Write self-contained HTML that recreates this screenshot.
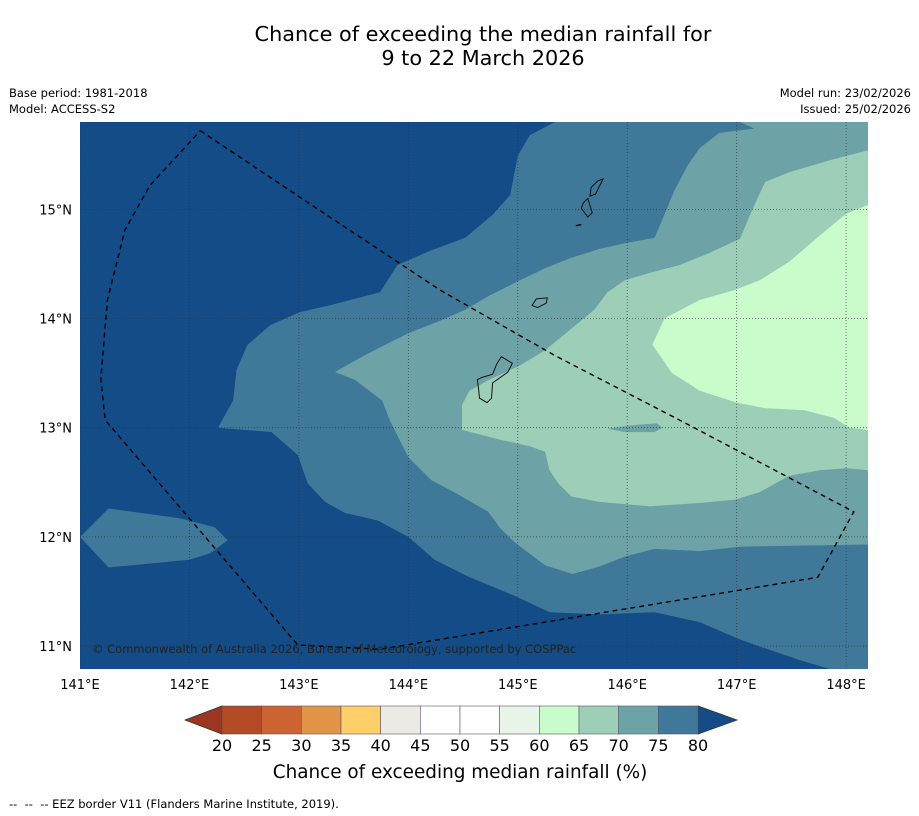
<!DOCTYPE html>
<html><head><meta charset="utf-8">
<style>
body{margin:0;background:#fff;font-family:"DejaVu Sans","Liberation Sans",sans-serif;}
#wrap{position:relative;width:919px;height:816px;overflow:hidden;}
.t{position:absolute;white-space:nowrap;color:#000;}
</style></head><body>
<div id="wrap">
<div class="t" style="left:0;width:966px;top:22px;text-align:center;font-size:20.8px;line-height:24px;">Chance of exceeding the median rainfall for<br>9 to 22 March 2026</div>
<div class="t" style="left:9px;top:85px;font-size:11.5px;line-height:16px;">Base period: 1981-2018<br>Model: ACCESS-S2</div>
<div class="t" style="right:8px;top:85px;font-size:11.5px;line-height:16px;text-align:right;">Model run: 23/02/2026<br>Issued: 25/02/2026</div>
<div class="t" style="left:9px;top:797px;font-size:11.5px;">-- &nbsp;-- &nbsp;-- EEZ border V11 (Flanders Marine Institute, 2019).</div>
<svg id="svg" width="919" height="816" style="position:absolute;left:0;top:0"></svg>
</div>
<script>
const lonMin=141, lonMax=148.2, latMin=10.79, latMax=15.8;
const lonTicks=[141,142,143,144,145,146,147,148];
const latTicks=[11,12,13,14,15];
const levelColors=["#3f7898","#6da3a7","#9dcfb8","#c9fcca"];
const p75Main=[[145.34,15.8],[145.11,15.68],[145.0,15.49],[144.93,15.13],[144.77,14.95],[144.52,14.74],[144.2,14.62],[143.9,14.49],[143.74,14.24],[143.28,14.12],[143.01,14.06],[142.74,13.94],[142.53,13.76],[142.43,13.53],[142.4,13.25],[142.26,13.0],[142.75,12.96],[142.99,12.75],[143.08,12.49],[143.24,12.32],[143.42,12.22],[143.72,12.15],[144.0,12.0],[144.24,11.79],[144.56,11.63],[144.97,11.46],[145.29,11.31],[145.75,11.29],[146.25,11.31],[146.66,11.22],[147.03,11.06],[147.26,10.98],[147.58,10.87],[147.85,10.79],[148.2,10.79],[148.2,15.8]];
const p75West=[[141,12.0],[141.26,12.26],[141.91,12.17],[142.23,12.09],[142.35,11.97],[142.19,11.85],[142.0,11.79],[141.26,11.72]];
const p70=[[147.03,15.8],[147.16,15.74],[146.84,15.7],[146.66,15.56],[146.55,15.4],[146.43,15.17],[146.34,14.95],[146.25,14.74],[145.98,14.69],[145.75,14.64],[145.47,14.55],[145.25,14.46],[145.02,14.35],[144.74,14.21],[144.52,14.08],[144.29,13.98],[144.01,13.87],[143.79,13.76],[143.56,13.64],[143.33,13.51],[143.51,13.44],[143.76,13.25],[143.83,13.07],[144.0,12.73],[144.21,12.52],[144.47,12.38],[144.73,12.23],[144.84,12.08],[144.97,11.95],[145.25,11.74],[145.5,11.66],[145.75,11.73],[145.98,11.82],[146.25,11.89],[146.66,11.87],[147.03,11.91],[147.58,11.92],[148.2,11.93],[148.2,15.8]];
const p65=[[148.2,15.54],[147.85,15.45],[147.48,15.34],[147.26,15.25],[147.14,14.99],[147.03,14.73],[146.75,14.6],[146.48,14.49],[146.21,14.42],[145.98,14.35],[145.82,14.24],[145.7,14.08],[145.47,13.89],[145.25,13.71],[145.02,13.57],[144.74,13.44],[144.56,13.34],[144.49,13.21],[144.49,12.98],[144.84,12.89],[145.11,12.83],[145.25,12.78],[145.29,12.61],[145.37,12.49],[145.49,12.37],[145.75,12.32],[146.21,12.28],[146.66,12.31],[146.98,12.34],[147.21,12.41],[147.48,12.56],[147.76,12.61],[148.0,12.63],[148.2,12.61]];
const p70Hole=[[145.82,12.99],[146.02,13.02],[146.27,13.04],[146.32,13.0],[146.25,12.96],[145.98,12.96]];
const p60=[[148.2,15.04],[148.0,14.96],[147.76,14.76],[147.48,14.52],[147.21,14.35],[146.98,14.26],[146.66,14.17],[146.34,14.0],[146.23,13.76],[146.41,13.5],[146.66,13.34],[147.0,13.23],[147.26,13.18],[147.62,13.16],[147.89,13.09],[148.03,13.0],[148.2,12.98]];
const eez=[[142.1,15.72],[143.01,15.11],[144.29,14.26],[145.34,13.66],[146.44,13.09],[148.07,12.23],[147.74,11.63],[143.74,10.97],[142.99,11.01],[141.23,13.07],[141.19,13.44],[141.25,14.17],[141.41,14.81],[141.64,15.22],[142.1,15.72]];
const guam=[[144.85,13.65],[144.95,13.59],[144.91,13.51],[144.77,13.41],[144.76,13.27],[144.72,13.23],[144.65,13.27],[144.64,13.37],[144.63,13.44],[144.67,13.46],[144.77,13.49],[144.81,13.59]];
const rota=[[145.13,14.12],[145.17,14.18],[145.27,14.19],[145.26,14.14],[145.18,14.1]];
const tinian=[[145.64,15.1],[145.68,14.97],[145.64,14.93],[145.58,15.01],[145.6,15.06]];
const saipan=[[145.78,15.28],[145.74,15.2],[145.71,15.14],[145.66,15.12],[145.67,15.2],[145.73,15.26]];
const aguijan=[[145.53,14.85],[145.58,14.86]];
const cbLevels=[20,25,30,35,40,45,50,55,60,65,70,75,80];
const cbColors=["#b34b26","#cb6431","#e29546","#fecf69","#ede9e5","#ffffff","#ffffff","#eaf5e9","#c9fcca","#9dcfb8","#6da3a7","#3f7898"];
const cbLow="#9d3620", cbHigh="#134c86";

const FONT='DejaVu Sans, Liberation Sans, sans-serif';
const X0=80,X1=868,Y0=122,Y1=669;
const sx=l=>X0+(l-lonMin)/(lonMax-lonMin)*(X1-X0);
const sy=l=>Y0+(latMax-l)/(latMax-latMin)*(Y1-Y0);
const NS="http://www.w3.org/2000/svg";
const svg=document.getElementById('svg');
function mk(tag,at,parent){const e=document.createElementNS(NS,tag);for(const k in at)e.setAttribute(k,at[k]);(parent||svg).appendChild(e);return e;}
const pts=a=>a.map(p=>sx(p[0]).toFixed(1)+','+sy(p[1]).toFixed(1)).join(' ');
const defs=mk('defs',{});const cp=mk('clipPath',{id:'clip'},defs);mk('rect',{x:X0,y:Y0,width:X1-X0,height:Y1-Y0},cp);
const g=mk('g',{'clip-path':'url(#clip)'});
let bg=mk('rect',{x:X0,y:Y0,width:X1-X0,height:Y1-Y0,fill:'#134c86'},g);


function poly(a,fill,name,stroke,sw,dash,closed){
  const e=mk(closed===false?'polyline':'polygon',{points:pts(a),fill:fill,stroke:stroke||'none','stroke-width':sw||0},g);
  if(dash)e.setAttribute('stroke-dasharray',dash);
  
  
  return e;
}
poly(p75Main,levelColors[0],'contour-75-80');
poly(p75West,levelColors[0],'contour-75-80-west');
poly(p70,levelColors[1],'contour-70-75');
poly(p65,levelColors[2],'contour-65-70');
poly(p70Hole,levelColors[1],'contour-70-75-patch');
poly(p60,levelColors[3],'contour-60-65');
lonTicks.forEach(l=>{const e=mk('line',{x1:sx(l),x2:sx(l),y1:Y0,y2:Y1,stroke:'#333','stroke-width':0.8,'stroke-dasharray':'1,2',opacity:0.8},g);

});
latTicks.forEach(l=>{const e=mk('line',{x1:X0,x2:X1,y1:sy(l),y2:sy(l),stroke:'#333','stroke-width':0.8,'stroke-dasharray':'1,2',opacity:0.8},g);

});
[['guam',guam],['rota',rota],['tinian',tinian],['saipan',saipan]].forEach(([n,a])=>poly(a,'none','island-'+n,'#111',1));
poly(aguijan,'none','island-aguijan','#111',1.5,null,false);
poly(eez,'none','eez-border','#000',1.4,'5,4',false);
let ct=mk('text',{x:92,y:653,'font-size':11.5,fill:'#222','font-family':FONT},svg);
ct.textContent='© Commonwealth of Australia 2026, Bureau of Meteorology, supported by COSPPac';


lonTicks.forEach(l=>{const t=mk('text',{x:sx(l),y:689,'font-size':13,'text-anchor':'middle','font-family':FONT});t.textContent=l+'°E';

});
latTicks.forEach(l=>{const t=mk('text',{x:72,y:sy(l)+5,'font-size':13,'text-anchor':'end','font-family':FONT});t.textContent=l+'°N';

});
const CB0=222,CB1=698,CBY=706,CBH=28;
const cx=v=>CB0+(v-cbLevels[0])/(cbLevels[cbLevels.length-1]-cbLevels[0])*(CB1-CB0);
let tl=mk('polygon',{points:`${CB0},${CBY} ${CB0},${CBY+CBH} 185,${CBY+CBH/2}`,fill:cbLow,stroke:'#333','stroke-width':0.8});


let th=mk('polygon',{points:`${CB1},${CBY} ${CB1},${CBY+CBH} 737,${CBY+CBH/2}`,fill:cbHigh,stroke:'#333','stroke-width':0.8});


cbColors.forEach((c,i)=>{const r=mk('rect',{x:cx(cbLevels[i]),y:CBY,width:cx(cbLevels[i+1])-cx(cbLevels[i]),height:CBH,fill:c,stroke:'#556','stroke-width':0.6});

});
cbLevels.forEach(v=>{const t=mk('text',{x:cx(v),y:751,'font-size':16,'text-anchor':'middle','font-family':FONT});t.textContent=v;

});
let cl=mk('text',{x:460,y:778,'font-size':18.4,'text-anchor':'middle','font-family':FONT});
cl.textContent='Chance of exceeding median rainfall (%)';


</script>
</body></html>
